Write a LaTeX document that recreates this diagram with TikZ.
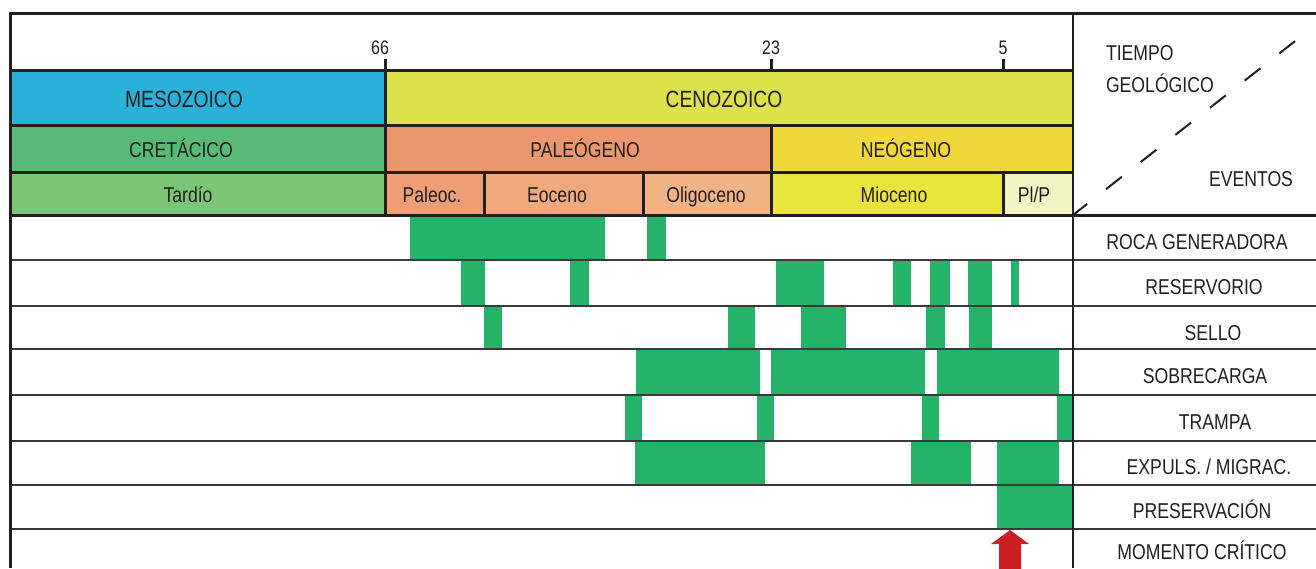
\documentclass[tikz,border=0pt]{standalone}
\usepackage{fontspec}
\setmainfont[FakeStretch=0.82]{Liberation Sans}
\definecolor{ink}{HTML}{231F20}
\definecolor{sepgray}{HTML}{3A3A3A}
\definecolor{meso}{HTML}{29B1DA}
\definecolor{ceno}{HTML}{DCE24A}
\definecolor{creta}{HTML}{57BA77}
\definecolor{tard}{HTML}{7DC576}
\definecolor{paleo}{HTML}{EB976D}
\definecolor{paleoc}{HTML}{EE9E74}
\definecolor{eoc}{HTML}{F0A97C}
\definecolor{olig}{HTML}{EFB384}
\definecolor{neo}{HTML}{F0D73C}
\definecolor{mio}{HTML}{E8E53A}
\definecolor{plp}{HTML}{F3F4C4}
\definecolor{barg}{HTML}{25B36A}
\definecolor{arrred}{HTML}{CC1F24}
\begin{document}
\begin{tikzpicture}[x=1pt,y=-1pt,
  every node/.style={inner sep=0pt,outer sep=0pt,text=ink},
  frame/.style={draw=ink,line width=3pt},
  sepline/.style={draw=sepgray,line width=1.8pt},
  bar/.style={fill=barg},
  era/.style={font=\fontsize{23.5}{26}\selectfont,anchor=base},
  lbl/.style={font=\fontsize{21.5}{24}\selectfont,anchor=base},
  tick/.style={font=\fontsize{19.5}{22}\selectfont,anchor=base}]
\useasboundingbox (0,0) rectangle (1316,568);
% header fills
\fill[meso] (10,70) rectangle (385,125);
\fill[ceno] (385,70) rectangle (1073,125);
\fill[creta] (10,125) rectangle (385,172);
\fill[paleo] (385,125) rectangle (771,172);
\fill[neo] (771,125) rectangle (1073,172);
\fill[tard] (10,172) rectangle (385,215);
\fill[paleoc] (385,172) rectangle (484,215);
\fill[eoc] (484,172) rectangle (643,215);
\fill[olig] (643,172) rectangle (771,215);
\fill[mio] (771,172) rectangle (1003,215);
\fill[plp] (1003,172) rectangle (1073,215);
% ROCA GENERADORA
\fill[bar] (410,215) rectangle (605,260);
\fill[bar] (647,215) rectangle (666,260);
% RESERVORIO
\fill[bar] (461,260) rectangle (485,306);
\fill[bar] (570,260) rectangle (589,306);
\fill[bar] (776,260) rectangle (824,306);
\fill[bar] (893,260) rectangle (911,306);
\fill[bar] (930,260) rectangle (950,306);
\fill[bar] (968,260) rectangle (992,306);
\fill[bar] (1011,260) rectangle (1019,306);
% SELLO
\fill[bar] (484,306) rectangle (502,349);
\fill[bar] (728,306) rectangle (755,349);
\fill[bar] (801,306) rectangle (846,349);
\fill[bar] (926,306) rectangle (945,349);
\fill[bar] (969,306) rectangle (992,349);
% SOBRECARGA
\fill[bar] (636,349) rectangle (760,395);
\fill[bar] (771,349) rectangle (925,395);
\fill[bar] (937,349) rectangle (1059,395);
% TRAMPA
\fill[bar] (625,395) rectangle (642,441);
\fill[bar] (757,395) rectangle (774,441);
\fill[bar] (922,395) rectangle (939,441);
\fill[bar] (1057,395) rectangle (1073,441);
% EXPULS
\fill[bar] (635,441) rectangle (765,485);
\fill[bar] (911,441) rectangle (971,485);
\fill[bar] (997,441) rectangle (1059,485);
% PRESERVACION
\fill[bar] (997,485) rectangle (1073,529);
% red arrow
\fill[arrred] (1010,530) -- (1029,544) -- (1021,544) -- (1021,570) -- (999,570) -- (999,544) -- (991,544) -- cycle;
% event separators
\foreach \yy in {260,306,349,395,441,485,529}
  \draw[sepline] (10,\yy) -- (1316,\yy);
% header lines
\draw[frame] (10,13) -- (1316,13);
\draw[frame] (10,70) -- (1073,70);
\draw[frame] (10,125) -- (1073,125);
\draw[frame] (10,172) -- (1073,172);
\draw[frame] (10,215) -- (1316,215);
\draw[frame] (10,11.5) -- (10,568);
\draw[draw=ink,line width=2.5pt] (1073,13) -- (1073,568);
\draw[frame] (385,59) -- (385,215);
\draw[frame] (771,59) -- (771,70);
\draw[frame] (771,125) -- (771,215);
\draw[frame] (1003,59) -- (1003,70);
\draw[frame] (1003,172) -- (1003,215);
\draw[frame] (484,172) -- (484,215);
\draw[frame] (643,172) -- (643,215);
% dashed diagonal
\coordinate (dA) at (1073,215);
\coordinate (dB) at (1308,31);
\draw[draw=ink,line width=2pt,dash pattern=on 20pt off 24pt,dash phase=2pt] (dA) -- (dB);
% tick labels
\node[tick] (t66) at (380,54) {66};
\node[tick] (t23) at (771,54) {23};
\node[tick] (t5) at (1003,54) {5};
% header texts
\node[era] (meso) at (184,107) {MESOZOICO};
\node[era] (ceno) at (724,107) {CENOZOICO};
\node[lbl] (creta) at (181,157) {CRETÁCICO};
\node[lbl] (paleo) at (585,157) {PALEÓGENO};
\node[lbl] (neo) at (906,157) {NEÓGENO};
\node[lbl] (tard) at (188,202) {Tardío};
\node[lbl] (paleoc) at (432,202) {Paleoc.};
\node[lbl] (eoc) at (557,202) {Eoceno};
\node[lbl] (olig) at (706,202) {Oligoceno};
\node[lbl] (mio) at (894,202) {Mioceno};
\node[lbl] (plp) at (1034,202) {Pl/P};
\node[lbl,anchor=base west] (tiempo) at (1106,60) {TIEMPO};
\node[lbl,anchor=base west] (geol) at (1106,92) {GEOLÓGICO};
\node[lbl] (eventos) at (1251,186) {EVENTOS};
% event labels
\node[lbl] (e1) at (1197,249) {ROCA GENERADORA};
\node[lbl] (e2) at (1204,294) {RESERVORIO};
\node[lbl] (e3) at (1213,340) {SELLO};
\node[lbl] (e4) at (1205,383) {SOBRECARGA};
\node[lbl] (e5) at (1215,429) {TRAMPA};
\node[lbl] (e6) at (1209,474) {EXPULS. / MIGRAC.};
\node[lbl] (e7) at (1202,518) {PRESERVACIÓN};
\node[lbl] (e8) at (1202,559) {MOMENTO CRÍTICO};
\end{tikzpicture}
\end{document}
